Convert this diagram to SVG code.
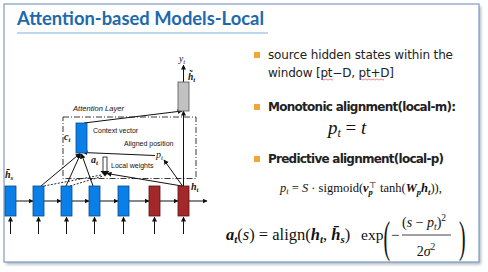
<svg xmlns="http://www.w3.org/2000/svg" width="488" height="272" viewBox="0 0 488 272">
<style>
.sans{font-family:"Liberation Sans",Arial,sans-serif;fill:#111}
.body{font-family:"DejaVu Sans",Verdana,sans-serif;font-size:12px;fill:#222}
.m{font-family:"Liberation Serif","DejaVu Serif",serif;fill:#111}
.it{font-style:italic}
.bi{font-style:italic;font-weight:bold}
.blue{fill:#0a7fe8;stroke:#0b4a8a;stroke-width:0.8}
.red{fill:#a3282a;stroke:#5a1010;stroke-width:0.8}
.ln{stroke:#111;stroke-width:1;fill:none}
.arr{stroke:#111;stroke-width:1;fill:none;marker-end:url(#ah)}
.dash{stroke:#111;stroke-width:0.9;fill:none;stroke-dasharray:2 1.5}
.bul{fill:#f2a735}
</style>
<defs>
<marker id="ah" viewBox="0 0 10 10" refX="9" refY="5" markerWidth="5" markerHeight="5" markerUnits="userSpaceOnUse" orient="auto"><path d="M0,0 L10,5 L0,10 z" fill="#111"/></marker>
<filter id="sh" x="-5%" y="-5%" width="110%" height="110%"><feGaussianBlur stdDeviation="1.5"/></filter>
</defs>

<g id="frame">
<rect x="6" y="6.5" width="475" height="258" fill="#6f7f90" opacity="0.55" filter="url(#sh)"/>
<rect x="4" y="4" width="475" height="258" fill="#fff" stroke="#7d9cc2" stroke-width="1.2"/>
</g>

<g id="title">
<text x="17" y="25" font-family="Lato,'Open Sans',sans-serif" font-weight="bold" font-size="18" fill="#1c69ad" textLength="247" lengthAdjust="spacingAndGlyphs">Attention-based Models-Local</text>
<line x1="17" y1="33" x2="268" y2="33" stroke="#a9c8e8" stroke-width="1.5"/>
</g>

<g id="attention-layer">
<rect x="63" y="117" width="133" height="61.5" fill="none" stroke="#222" stroke-width="0.9" stroke-dasharray="6 2 1 2"/>
<text x="73" y="111" class="sans" font-size="7.6" font-style="italic">Attention Layer</text>
</g>

<g id="connectors">
<line class="arr" x1="16" y1="201" x2="33" y2="201"/>
<line class="arr" x1="44" y1="201" x2="61" y2="201"/>
<line class="arr" x1="72" y1="201" x2="89" y2="201"/>
<line class="arr" x1="100" y1="201" x2="118" y2="201"/>
<line class="arr" x1="129" y1="201" x2="149" y2="201"/>
<line class="arr" x1="160" y1="201" x2="178" y2="201"/>
<line class="arr" x1="189" y1="201" x2="207" y2="201"/>
<line class="arr" x1="10.5" y1="234" x2="10.5" y2="217"/>
<line class="arr" x1="38.5" y1="234" x2="38.5" y2="217"/>
<line class="arr" x1="66.5" y1="234" x2="66.5" y2="217"/>
<line class="arr" x1="94.5" y1="234" x2="94.5" y2="217"/>
<line class="arr" x1="123.5" y1="234" x2="123.5" y2="217"/>
<line class="arr" x1="154.5" y1="234" x2="154.5" y2="217"/>
<line class="arr" x1="183.5" y1="234" x2="183.5" y2="217"/>
<line class="arr" x1="41" y1="186" x2="80" y2="153.5"/>
<line class="arr" x1="66" y1="186" x2="80.5" y2="154"/>
<line class="arr" x1="93" y1="186" x2="81.5" y2="154"/>
<line class="arr" x1="155" y1="155.5" x2="83" y2="152.5"/>
<line class="dash" x1="44" y1="186" x2="101" y2="175"/>
<line class="dash" x1="70" y1="186" x2="103" y2="176"/>
<line class="arr" x1="182.5" y1="186" x2="164" y2="160"/>
<line class="arr" x1="182" y1="186" x2="107" y2="173.5"/>
<line class="arr" x1="84" y1="123" x2="182" y2="111"/>
<line class="arr" x1="183.5" y1="186" x2="183.5" y2="111"/>
<line class="arr" x1="183.5" y1="82" x2="183.5" y2="65"/>
</g>

<g id="local-weights">
<rect x="103" y="157" width="4" height="14.5" fill="#fff" stroke="#111" stroke-width="0.8"/>
<polygon points="100.5,171 109.5,171 105,176.5" fill="#111"/>
<text x="111" y="167.5" class="sans" font-size="7">Local weights</text>
<text x="91" y="163" class="m bi" font-size="10">a<tspan font-size="7" dy="2">t</tspan></text>
</g>

<g id="context-vector">
<rect class="blue" x="76" y="123" width="11" height="30"/>
<text x="64" y="140" class="m bi" font-size="10">c<tspan font-size="7" dy="2">t</tspan></text>
<text x="93" y="132.5" class="sans" font-size="7">Context vector</text>
</g>

<g id="aligned-position">
<text x="124" y="145.5" class="sans" font-size="7">Aligned position</text>
<text x="156" y="158" class="m it" font-size="10">p<tspan font-size="7" dy="2">t</tspan></text>
</g>

<g id="attentional-state">
<rect x="178" y="82" width="11" height="29" fill="#c2c2c2" stroke="#555" stroke-width="0.8"/>
<text x="179" y="62" class="m it" font-size="9.5">y<tspan font-size="7" dy="2">t</tspan></text>
<text x="188" y="80" class="m bi" font-size="9.5">h̃<tspan font-size="7" dy="2">t</tspan></text>
</g>

<g id="source-states">
<rect class="blue" x="5" y="186" width="11" height="30"/>
<rect class="blue" x="33" y="186" width="11" height="30"/>
<rect class="blue" x="61" y="186" width="11" height="30"/>
<rect class="blue" x="89" y="186" width="11" height="30"/>
<rect class="blue" x="118" y="186" width="11" height="30"/>
<text x="5" y="178" class="m bi" font-size="10">h̄<tspan font-size="7" dy="2">s</tspan></text>
</g>

<g id="target-states">
<rect class="red" x="149" y="186" width="11" height="30"/>
<rect class="red" x="178" y="186" width="11" height="30"/>
<text x="191" y="190" class="m bi" font-size="10">h<tspan font-size="7" dy="2">t</tspan></text>
</g>

<g id="bullet-1">
<rect class="bul" x="254" y="52" width="6" height="6"/>
<text x="268" y="59" class="body" textLength="185">source hidden states within the</text>
<text x="268" y="77" class="body" textLength="126">window [pt−D, pt+D]</text>
<path d="M321,79.5 q1,-1.2 2,0 t2,0 t2,0 t2,0 t2,0 t2,0" stroke="#d33" stroke-width="0.6" fill="none"/>
<path d="M360,79.5 q1,-1.2 2,0 t2,0 t2,0 t2,0 t2,0 t2,0 t2,0 t2,0 t2,0 t2,0 t2,0 t2,0" stroke="#d33" stroke-width="0.6" fill="none"/>
</g>

<g id="bullet-2">
<rect class="bul" x="254" y="104" width="6" height="6"/>
<text x="268" y="111" class="body" font-weight="bold" textLength="188">Monotonic alignment(local-m):</text>
<text x="328" y="134" class="m" font-size="19"><tspan class="it">p</tspan><tspan class="it" font-size="12" dy="3">t</tspan><tspan dy="-3"> = </tspan><tspan class="it">t</tspan></text>
</g>

<g id="bullet-3">
<rect class="bul" x="254" y="156" width="6" height="6"/>
<text x="268" y="163" class="body" font-weight="bold" textLength="176">Predictive alignment(local-p)</text>
<text x="280" y="192" class="m" font-size="12.5"><tspan class="it">p</tspan><tspan class="it" font-size="8.5" dy="2">t</tspan><tspan dy="-2"> = </tspan><tspan class="it">S</tspan> · sigmoid(<tspan class="bi">v</tspan><tspan class="bi" font-size="8.5" dy="2.5">p</tspan><tspan font-size="8.5" dx="-4" dy="-7">⊤</tspan><tspan dy="4.5"> tanh(</tspan><tspan class="bi">W</tspan><tspan class="bi" font-size="8.5" dy="2.5">p</tspan><tspan class="bi" dy="-2.5">h</tspan><tspan class="bi" font-size="8.5" dy="2.5">t</tspan><tspan dy="-2.5">)),</tspan></text>
</g>

<g id="formula">
<text x="226" y="240" class="m" font-size="16.5"><tspan class="bi">a</tspan><tspan class="bi" font-size="11" dy="3">t</tspan><tspan dy="-3">(</tspan><tspan class="it">s</tspan>) = align(<tspan class="bi">h</tspan><tspan class="bi" font-size="11" dy="3">t</tspan><tspan dy="-3">, </tspan><tspan class="bi">h̄</tspan><tspan class="bi" font-size="11" dy="3">s</tspan><tspan dy="-3">)</tspan></text>
<text x="361" y="240" class="m" font-size="15.5">exp</text>
<text transform="translate(383.5,252) scale(0.45,1)" class="m" font-size="44">(</text>
<text x="391" y="240" class="m" font-size="15">−</text>
<text x="402" y="227" class="m" font-size="14">(<tspan class="it">s</tspan> − <tspan class="it">p</tspan><tspan class="it" font-size="9.5" dy="2.5">t</tspan><tspan dy="-2.5">)</tspan><tspan font-size="9.5" dy="-6">2</tspan></text>
<line x1="402" y1="235" x2="451" y2="235" stroke="#111" stroke-width="0.8"/>
<text x="426" y="256" class="m" font-size="14" text-anchor="middle">2<tspan class="it">σ</tspan><tspan font-size="9.5" dy="-6">2</tspan></text>
<text transform="translate(459,252) scale(0.45,1)" class="m" font-size="44">)</text>
</g>
</svg>
